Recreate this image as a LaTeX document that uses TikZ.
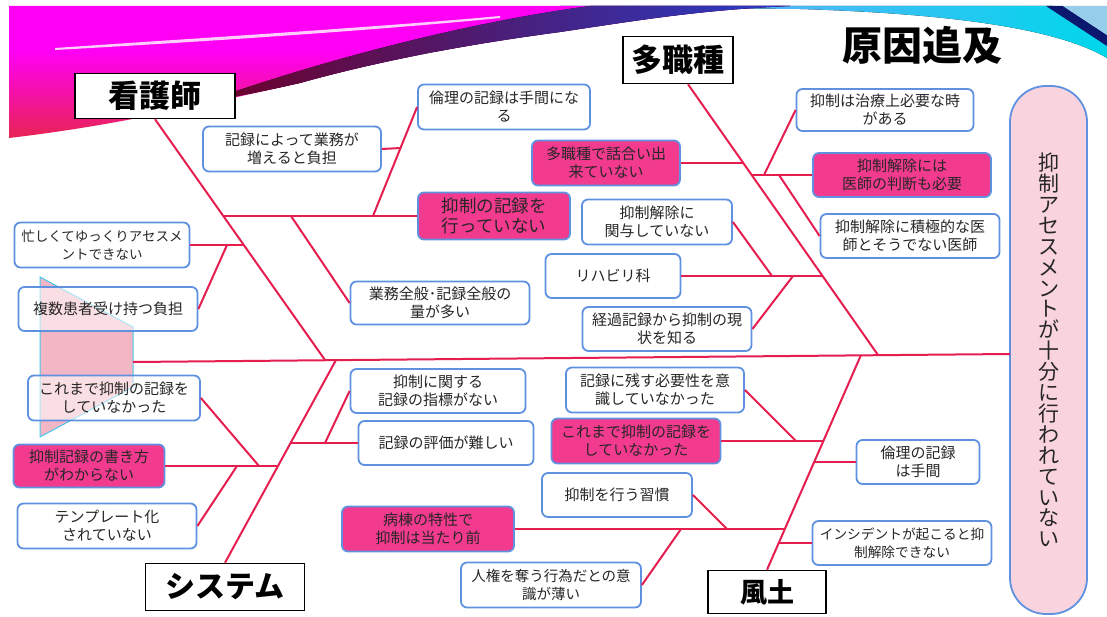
\documentclass[tikz,border=0pt]{standalone}
\usepackage{fontspec}
\setmainfont{Noto Sans CJK JP}
\usetikzlibrary{calc}
\definecolor{bblue}{RGB}{95,145,225}
\definecolor{hpink}{RGB}{242,58,142}
\definecolor{lred}{RGB}{230,30,80}
\definecolor{epink}{RGB}{249,212,222}
\definecolor{shpink}{RGB}{243,182,196}
\definecolor{shcyan}{RGB}{70,200,235}
\definecolor{magt}{RGB}{255,0,245}
\definecolor{redb}{RGB}{232,36,84}
\definecolor{stripeL}{RGB}{110,0,40}
\definecolor{stripeM}{RGB}{8,0,35}
\definecolor{stripeR}{RGB}{40,60,200}
\definecolor{cyL}{RGB}{130,160,255}
\definecolor{cyM}{RGB}{205,245,255}
\definecolor{cyR}{RGB}{0,215,235}
\definecolor{navyc}{RGB}{10,25,110}
\definecolor{topblue}{RGB}{150,205,235}
\begin{document}
\begin{tikzpicture}[x=1pt,y=-1pt,
 wbox/.style={draw=bblue, line width=1.8pt, rounded corners=6pt, fill=white, align=center, inner sep=1pt, font=\fontsize{15}{18}\selectfont, text=black!85},
 pbox/.style={wbox, fill=hpink},
 cat/.style={draw=black, line width=1.5pt, fill=white, font=\bfseries\fontsize{31}{33}\selectfont, inner sep=0pt},
 bone/.style={draw=lred, line width=2pt},
]
\useasboundingbox (0,0) rectangle (1107,617);
\fill[white] (0,0) rectangle (1107,617);
% ---- banner ----
\fill[left color=cyL, middle color=cyM, right color=cyR] (560,6) -- (1053,6) -- (1107,42) -- (1107,58) .. controls (1060,30) and (960,14) .. (800,9) .. controls (700,8) .. (560,6) -- cycle;
\fill[navyc] (1046,6) -- (1063,6) -- (1107,35) -- (1107,46) -- cycle;
\fill[topblue] (1063,6) -- (1107,6) -- (1107,35) -- cycle;
\begin{scope}
\clip (9,6) -- (790,6) .. controls (700,10) and (640,20) .. (560,32) .. controls (500,40) and (400,55) .. (300,83) .. controls (200,105) and (120,125) .. (9,138) -- cycle;
\fill[magt] (0,0) rectangle (800,52);
\foreach \i in {0,...,29}{
  \pgfmathsetmacro\p{\i*100/29}
  \fill[redb!\p!magt] (0,{50+3*\i}) rectangle (420,{53.5+3*\i});
}
\end{scope}
\fill[white, opacity=0.8] (55,48) .. controls (200,38) and (380,27) .. (500,16) -- (500,18) .. controls (380,30) and (200,42) .. (55,50) -- cycle;
\fill[left color=stripeL, middle color=stripeM, right color=stripeR] (210,100) .. controls (330,58) and (470,22) .. (590,6) -- (790,6) .. controls (700,10) and (640,20) .. (560,32) .. controls (500,40) and (400,55) .. (300,83) .. controls (260,92) and (235,97) .. (210,100) -- cycle;
% ---- tail shape ----
\draw[shcyan, line width=1pt, fill=shpink] (40,277) -- (133,327) -- (133,387) -- (40,437) -- cycle;
% ---- title ----
\node[font=\bfseries\fontsize{40}{42}\selectfont] (title) at (922,45) {原因追及};
% ---- category boxes ----
\node[cat, minimum width=160pt, minimum height=45pt] (kango) at (155,96) {看護師};
\node[cat, minimum width=110pt, minimum height=47pt] (tashoku) at (678,60) {多職種};
\node[cat, font=\bfseries\fontsize{30}{32}\selectfont, minimum width=159pt, minimum height=47pt] (system) at (225,587) {システム};
\node[cat, font=\bfseries\fontsize{27}{30}\selectfont, minimum width=118pt, minimum height=43pt] (fudo) at (767,592) {風土};
% ---- effect ----
\node[draw=bblue, line width=1.8pt, fill=epink, rounded corners=36pt, minimum width=77pt, minimum height=528pt, align=center, inner sep=0pt, font=\fontsize{21}{20.9}\selectfont, text=black!85] (effect) at (1048.5,350) {抑\\制\\ア\\セ\\ス\\メ\\ン\\ト\\が\\十\\分\\に\\行\\わ\\れ\\て\\い\\な\\い};
% ---- nurse boxes ----
\node[wbox, minimum width=172pt, minimum height=45pt] (rinri) at (504,107) {倫理の記録は手間にな\\る};
\node[wbox, minimum width=178pt, minimum height=45pt] (zou) at (292,149) {記録によって業務が\\増えると負担};
\node[pbox, font=\fontsize{17.5}{20}\selectfont, minimum width=152pt, minimum height=47pt] (kiroku) at (494,216) {抑制の記録を\\行っていない};
\node[wbox, minimum width=179pt, minimum height=43pt] (zenpan) at (440,303) {業務全般･記録全般の\\量が多い};
\node[wbox, font=\fontsize{13.5}{18}\selectfont, minimum width=175pt, minimum height=45pt] (isogashi) at (102,245) {忙しくてゆっくりアセスメ\\ントできない};
\node[wbox, fill opacity=0.55, text opacity=1, minimum width=179pt, minimum height=44pt] (fukusu) at (108,309) {複数患者受け持つ負担};
% ---- system boxes ----
\node[wbox, fill opacity=0.55, text opacity=1, minimum width=172pt, minimum height=45pt] (koremadeA) at (114,398) {これまで抑制の記録を\\していなかった};
\node[pbox, minimum width=151pt, minimum height=43pt] (kakikata) at (89,466) {抑制記録の書き方\\がわからない};
\node[wbox, minimum width=179pt, minimum height=45pt] (template) at (107,526) {テンプレート化\\されていない};
\node[wbox, minimum width=175pt, minimum height=44pt] (shihyou) at (438,391) {抑制に関する\\記録の指標がない};
\node[wbox, minimum width=175pt, minimum height=44pt] (hyouka) at (446,443) {記録の評価が難しい};
% ---- multi-profession boxes ----
\node[pbox, minimum width=148pt, minimum height=45pt] (hanashiai) at (606,163) {多職種で話合い出\\来ていない};
\node[wbox, minimum width=177pt, minimum height=42pt] (chiryou) at (885,110) {抑制は治療上必要な時\\がある};
\node[pbox, minimum width=178pt, minimum height=44pt] (ishi) at (902,175) {抑制解除には\\医師の判断も必要};
\node[wbox, minimum width=179pt, minimum height=44pt] (sekkyoku) at (910,236) {抑制解除に積極的な医\\師とそうでない医師};
\node[wbox, minimum width=150pt, minimum height=45pt] (kanyo) at (657,222) {抑制解除に\\関与していない};
\node[wbox, minimum width=135pt, minimum height=44pt] (reha) at (613,276) {リハビリ科};
\node[wbox, minimum width=169pt, minimum height=44pt] (keika) at (667,329) {経過記録から抑制の現\\状を知る};
% ---- culture boxes ----
\node[wbox, minimum width=178pt, minimum height=45pt] (nokosu) at (655,390) {記録に残す必要性を意\\識していなかった};
\node[pbox, minimum width=169pt, minimum height=45pt] (koremadeB) at (636,441) {これまで抑制の記録を\\していなかった};
\node[wbox, minimum width=123pt, minimum height=44pt] (rinriB) at (918,462) {倫理の記録\\は手間};
\node[wbox, minimum width=150pt, minimum height=44pt] (shuukan) at (617,495) {抑制を行う習慣};
\node[wbox, font=\fontsize{13.7}{18}\selectfont, minimum width=179pt, minimum height=44pt] (incident) at (902,543) {インシデントが起こると抑\\制解除できない};
\node[wbox, font=\fontsize{14.5}{18}\selectfont, minimum width=180pt, minimum height=45pt] (jinken) at (551,585) {人権を奪う行為だとの意\\識が薄い};
\node[pbox, minimum width=172pt, minimum height=45pt] (byoutou) at (428,529) {病棟の特性で\\抑制は当たり前};
% ---- spine ----
\coordinate (tail) at (133,362);
\coordinate (head) at (1010,354);
\draw[bone] (tail) -- (head);
% ---- nurse bone ----
\coordinate (kS) at (325,360);
\draw[bone] (kango.south) -- (kS);
\coordinate (kA) at (224,216);
\draw[bone] (kA) -- (kiroku.west);
\coordinate (kA1) at (373,216);
\draw[bone] (kA1) -- (rinri.west);
\coordinate (kA2) at (401,148);
\draw[bone] (zou.east) -- (kA2);
\coordinate (kA3) at (291,216);
\draw[bone] (kA3) -- (zenpan.west);
\coordinate (kB) at (244,245);
\draw[bone] (isogashi.east) -- (kB);
\coordinate (kB1) at (227,245);
\draw[bone] (kB1) -- (fukusu.east);
% ---- system bone ----
\coordinate (sS) at (336,360);
\draw[bone] (sS) -- (system.north);
\coordinate (sA) at (278,466);
\draw[bone] (kakikata.east) -- (sA);
\coordinate (sA1) at (259,466);
\draw[bone] (sA1) -- (koremadeA.east);
\coordinate (sA2) at (237,466);
\draw[bone] (sA2) -- (template.east);
\coordinate (sB) at (290.7,443);
\draw[bone] (sB) -- (hyouka.west);
\coordinate (sB1) at (325,443);
\draw[bone] (sB1) -- (shihyou.west);
% ---- multi-profession bone ----
\coordinate (tS) at (878,355);
\draw[bone] ([xshift=10pt]tashoku.south) -- (tS);
\coordinate (tA) at (744,163);
\draw[bone] (hanashiai.east) -- (tA);
\coordinate (tB) at (752,175);
\draw[bone] (tB) -- (ishi.west);
\coordinate (tB1) at (764,175);
\draw[bone] (tB1) -- (chiryou.west);
\coordinate (tB2) at (779,175);
\draw[bone] (tB2) -- (sekkyoku.west);
\coordinate (tC) at (823,276);
\draw[bone] (reha.east) -- (tC);
\coordinate (tC1) at (772,276);
\draw[bone] (tC1) -- (kanyo.east);
\coordinate (tC2) at (793,276);
\draw[bone] (tC2) -- (keika.east);
% ---- culture bone ----
\coordinate (fS) at (861,355);
\draw[bone] (fS) -- (fudo.north);
\coordinate (fA) at (823.5,441);
\draw[bone] (koremadeB.east) -- (fA);
\coordinate (fA1) at (796,441);
\draw[bone] (fA1) -- (nokosu.east);
\coordinate (fB) at (814.3,462);
\draw[bone] (fB) -- (rinriB.west);
\coordinate (fC) at (785,529);
\draw[bone] (byoutou.east) -- (fC);
\coordinate (fC1) at (727,529);
\draw[bone] (fC1) -- (shuukan.east);
\coordinate (fC2) at (681,529);
\draw[bone] (fC2) -- (jinken.east);
\coordinate (fD) at (779,543);
\draw[bone] (fD) -- (incident.west);
\end{tikzpicture}
\end{document}
